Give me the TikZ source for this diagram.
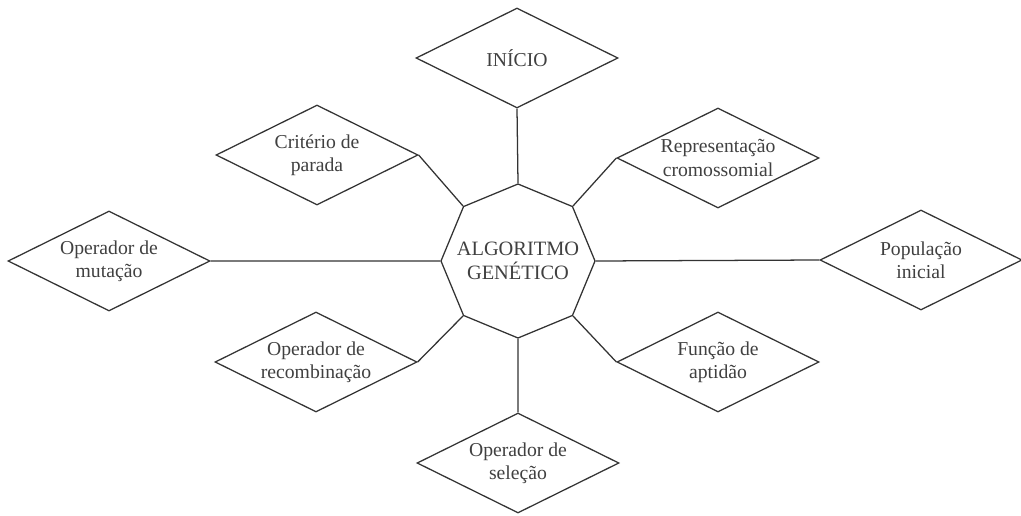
\documentclass[tikz,border=0pt]{standalone}
\usepackage{fontspec}
\setmainfont{Liberation Serif}
\usetikzlibrary{shapes.geometric}

\begin{document}
\begin{tikzpicture}[every node/.style={align=center,draw=black!80,line width=0.9pt,
    text=black!75,inner sep=0pt},
  etapa/.style={diamond,aspect=2,minimum width=5.05cm,minimum height=2.5cm,
    font=\fontsize{14}{16.5}\selectfont},
  nucleo/.style={regular polygon,regular polygon sides=8,shape border rotate=22.5,
    inner sep=-12pt,minimum size=3.85cm,font=\fontsize{14.5}{17}\selectfont},
  liga/.style={draw=black!80,line width=0.9pt}]
\useasboundingbox (0,0) rectangle (25.525,-12.875);

\node (ag) [nucleo] at (12.95,-6.525) {ALGORITMO\\GEN\'ETICO};

\node (inicio) [etapa] at (12.925,-1.45) {IN\'ICIO};
\node (criterio) [etapa] at (7.925,-3.875) {Crit\'erio de\\parada};
\node (repres) [etapa] at (17.95,-3.95) {Representa\c{c}\~ao\\cromossomial};
\node (mutacao) [etapa] at (2.725,-6.525) {Operador de\\muta\c{c}\~ao};
\node (popul) [etapa] at (23.025,-6.5) {Popula\c{c}\~ao\\inicial};
\node (recomb) [etapa] at (7.9,-9.05) {Operador de\\recombina\c{c}\~ao};
\node (aptidao) [etapa] at (17.95,-9.05) {Fun\c{c}\~ao de\\aptid\~ao};
\node (selecao) [etapa] at (12.95,-11.575) {Operador de\\sele\c{c}\~ao};

\draw [liga] (ag.90) -- (inicio.south);
\draw [liga] (ag.135) -- (criterio.east);
\draw [liga] (ag.45) -- (repres.west);
\draw [liga] (ag.180) -- (mutacao.east);
\draw [liga] (ag.0) -- (popul.west);
\draw [liga] (ag.225) -- (recomb.east);
\draw [liga] (ag.315) -- (aptidao.west);
\draw [liga] (ag.270) -- (selecao.north);
\end{tikzpicture}
\end{document}
